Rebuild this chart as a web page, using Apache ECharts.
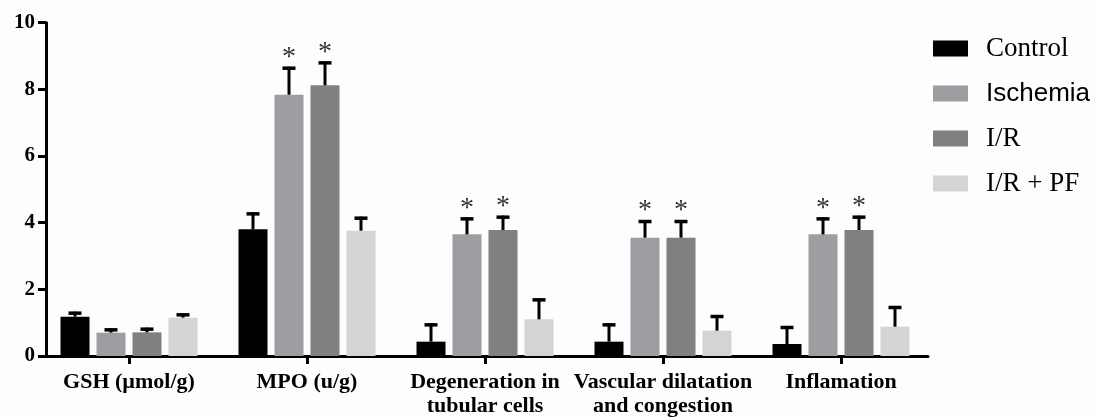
<!DOCTYPE html>
<html>
<head>
<meta charset="utf-8">
<script src="https://cdn.jsdelivr.net/npm/echarts@6/dist/echarts.min.js"></script>
<style>html,body{margin:0;padding:0;background:#fdfdfd}#c{width:1095px;height:417px}</style>
</head>
<body>
<div id="c"></div>
<script>
const categories = ['GSH (µmol/g)', 'MPO (u/g)', 'Degeneration in\ntubular cells', 'Vascular dilatation\nand congestion', 'Inflamation'];
const groupNames = ['Control', 'Ischemia', 'I/R', 'I/R + PF'];
const yTicks = [0, 2, 4, 6, 8, 10];

const control     = [1.18, 3.80, 0.43, 0.43, 0.36];
const controlSem  = [0.15, 0.51, 0.55, 0.55, 0.54];
const ischemia    = [0.70, 7.84, 3.65, 3.55, 3.65];
const ischemiaSem = [0.13, 0.84, 0.51, 0.53, 0.51];
const ir          = [0.71, 8.12, 3.78, 3.55, 3.78];
const irSem       = [0.14, 0.72, 0.43, 0.53, 0.43];
const irpf        = [1.15, 3.76, 1.10, 0.76, 0.88];
const irpfSem     = [0.13, 0.42, 0.63, 0.47, 0.62];
const controlStar  = [0, 0, 0, 0, 0];
const ischemiaStar = [0, 1, 1, 1, 1];
const irStar       = [0, 1, 1, 1, 1];
const irpfStar     = [0, 0, 0, 0, 0];

const means = [control, ischemia, ir, irpf];
const sems = [controlSem, ischemiaSem, irSem, irpfSem];
const stars = [controlStar, ischemiaStar, irStar, irpfStar];
const colors = ['#000000', '#9e9ea2', '#808080', '#d4d4d4'];
const legendFonts = ['Liberation Serif', 'Liberation Sans', 'Liberation Serif', 'Liberation Serif'];

const BAR_W = 29, BAR_GAP = 7;
const serif = 'Liberation Serif';

const chart = echarts.init(document.getElementById('c'), null, {renderer: 'canvas'});

const series = [];
groupNames.forEach((name, i) => {
  series.push({
    name: name, type: 'bar', xAxisIndex: 0, yAxisIndex: 0,
    data: means[i], barWidth: BAR_W, barGap: (BAR_GAP / BAR_W * 100) + '%',
    itemStyle: {color: colors[i]}, z: 2
  });
});
groupNames.forEach((name, i) => {
  const offset = (i - 1.5) * (BAR_W + BAR_GAP);
  series.push({
    name: 'err-' + name, type: 'custom', xAxisIndex: 0, yAxisIndex: 0, z: 3,
    data: means[i].map((v, k) => [k, v, sems[i][k], stars[i][k]]),
    encode: {x: 0, y: 1},
    renderItem: function (params, api) {
      const c = api.coord([api.value(0), api.value(1)]);
      const t = api.coord([api.value(0), api.value(1) + api.value(2)]);
      const x = c[0] + offset;
      const children = [
        {type: 'line', shape: {x1: x, y1: c[1], x2: x, y2: t[1]}, style: {stroke: '#000', lineWidth: 3}},
        {type: 'line', shape: {x1: x - 6.5, y1: t[1] + 1.5, x2: x + 6.5, y2: t[1] + 1.5}, style: {stroke: '#000', lineWidth: 3.5}}
      ];
      if (api.value(3)) {
        children.push({type: 'text', style: {text: '*', x: x, y: t[1] - 9, align: 'center', verticalAlign: 'middle', textAlign: 'center', textVerticalAlign: 'middle', font: '28px "Liberation Serif"', fill: '#333'}});
      }
      return {type: 'group', children: children};
    }
  });
});

chart.setOption({
  backgroundColor: '#fdfdfd',
  animation: false,
  legend: {
    orient: 'vertical', left: 928, top: 30,
    itemWidth: 35, itemHeight: 16, itemGap: 18,
    icon: 'rect',
    textStyle: {fontSize: 27, lineHeight: 27, color: '#000', padding: [0, 0, 0, 13]},
    data: groupNames.map((n, i) => ({name: n, textStyle: {fontFamily: legendFonts[i], fontSize: legendFonts[i] === 'Liberation Sans' ? 26 : 27}}))
  },
  grid: [
    {left: 40, right: 165, top: 22.7, bottom: 61, outerBoundsMode: 'none', containLabel: false},
    {left: 46, right: 167, top: 22.7, bottom: 61, outerBoundsMode: 'none', containLabel: false}
  ],
  xAxis: [
    {
      type: 'category', gridIndex: 0, data: categories,
      axisLine: {show: false},
      axisTick: {show: true, alignWithLabel: true, length: 8, lineStyle: {color: '#000', width: 3}},
      axisLabel: {interval: 0, color: '#000', fontFamily: serif, fontWeight: 'bold', fontSize: 22, lineHeight: 24, margin: 14}
    },
    {
      type: 'value', gridIndex: 1, min: 0, max: 1,
      axisLine: {show: true, onZero: false, lineStyle: {color: '#000', width: 3}},
      axisTick: {show: false}, axisLabel: {show: false}, splitLine: {show: false}
    }
  ],
  yAxis: [
    {type: 'value', gridIndex: 0, min: 0, max: 10, show: false},
    {
      type: 'value', gridIndex: 1, min: yTicks[0], max: yTicks[yTicks.length - 1], interval: 2,
      axisLine: {show: true, lineStyle: {color: '#000', width: 3}},
      axisTick: {show: true, length: 8, lineStyle: {color: '#000', width: 3}},
      axisLabel: {color: '#000', fontFamily: serif, fontWeight: 'bold', fontSize: 21, margin: 11},
      splitLine: {show: false}
    }
  ],
  series: series
});
</script>
</body>
</html>
